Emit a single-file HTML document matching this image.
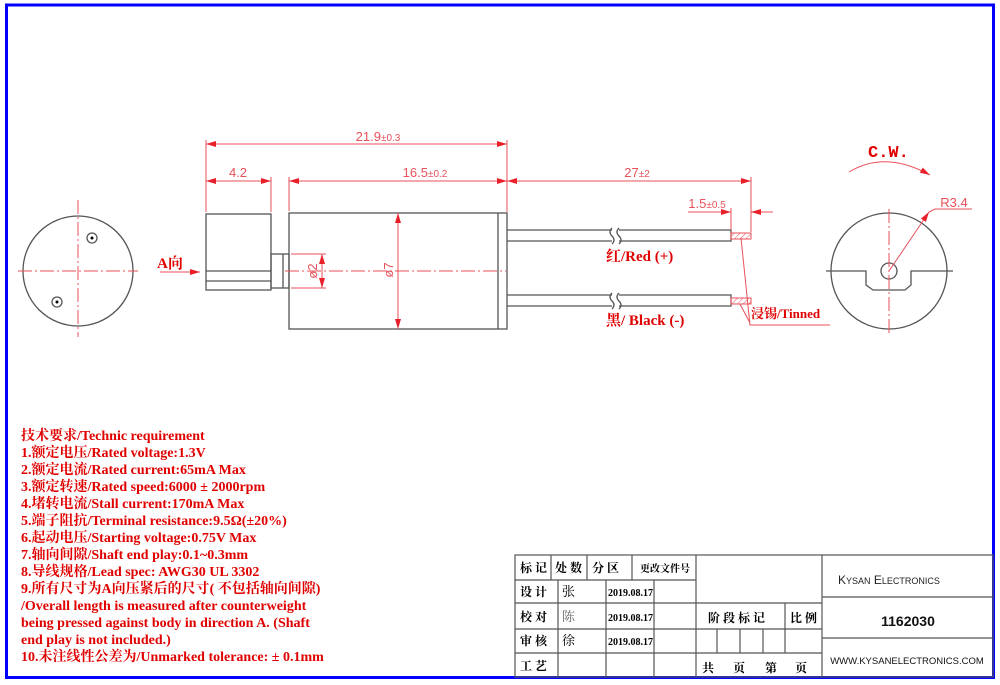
<!DOCTYPE html>
<html><head><meta charset="utf-8"><style>
html,body{margin:0;padding:0;background:#fff;width:1000px;height:685px;overflow:hidden}
svg{display:block}
.d{stroke:#e8505a;stroke-width:1;fill:none}
.k{stroke:#555;stroke-width:1.3;fill:none}
.c{stroke:#e8505a;stroke-width:1;fill:none;stroke-dasharray:14 3 2 3}
.dt{font-family:"Liberation Sans",sans-serif;font-size:13px;fill:#e8505a}
.rt{font-family:"Liberation Serif","Noto Serif CJK SC",serif;font-weight:bold;fill:#e00000}
.tb{font-family:"Liberation Serif","Noto Serif CJK SC",serif;font-weight:bold;font-size:12px;fill:#000}
</style></head><body>
<svg width="1000" height="685" viewBox="0 0 1000 685" xmlns="http://www.w3.org/2000/svg">
<defs>
<marker id="a" viewBox="0 0 10 6" refX="10" refY="3" markerWidth="10" markerHeight="6" orient="auto-start-reverse" markerUnits="userSpaceOnUse"><path d="M0,0L10,3L0,6z" fill="#e8202a"/></marker>
<pattern id="h" width="4" height="4" patternUnits="userSpaceOnUse" patternTransform="rotate(45)"><line x1="0" y1="0" x2="0" y2="4" stroke="#e8505a" stroke-width="1"/></pattern>
</defs>
<!-- border -->
<rect x="6.5" y="5" width="987" height="672.5" fill="none" stroke="#0000ff" stroke-width="3"/>

<!-- left end view -->
<circle cx="78" cy="271" r="55" class="k"/>
<line x1="18" y1="271" x2="138" y2="271" class="c"/>
<line x1="78" y1="200" x2="78" y2="337" class="c"/>
<circle cx="92" cy="238" r="5" class="k"/><circle cx="92" cy="238" r="1.5" fill="#000"/>
<circle cx="57" cy="302" r="5" class="k"/><circle cx="57" cy="302" r="1.5" fill="#000"/>
<text x="157" y="268" class="rt" font-size="15">A向</text>
<line x1="160" y1="272" x2="200" y2="272" class="d" marker-end="url(#a)"/>

<!-- counterweight -->
<rect x="206" y="214" width="65" height="76" class="k"/>
<line x1="206" y1="271" x2="271" y2="271" class="k"/>
<line x1="206" y1="281" x2="271" y2="281" class="k"/>
<rect x="271" y="254" width="18" height="34" class="k"/>
<line x1="283" y1="254" x2="283" y2="288" class="k"/>
<!-- body -->
<rect x="289" y="213" width="218" height="116" class="k"/>
<line x1="498" y1="213" x2="498" y2="329" class="k"/>
<line x1="285" y1="271" x2="506" y2="271" class="c"/>
<!-- wires -->
<path d="M507,230H612M619,230H731V241H619M612,241H507" class="k"/>
<path d="M612,228q-4,4 0,8q4,4 0,8M619,228q-4,4 0,8q4,4 0,8" class="k" stroke-width="0.8"/>
<path d="M507,295H612M619,295H731V306H619M612,306H507" class="k"/>
<path d="M612,293q-4,4 0,8q4,4 0,8M619,293q-4,4 0,8q4,4 0,8" class="k" stroke-width="0.8"/>
<rect x="731" y="233" width="20" height="6" fill="url(#h)" stroke="#e8505a" stroke-width="1"/>
<rect x="731" y="298" width="20" height="6" fill="url(#h)" stroke="#e8505a" stroke-width="1"/>
<text x="606" y="261" class="rt" font-size="15">红/Red (+)</text>
<text x="606" y="325" class="rt" font-size="15">黑/ Black (-)</text>
<text x="751" y="318" class="rt" font-size="13">浸锡/Tinned</text>
<path d="M741,238L750,325H830M740,304L750,323" class="d"/>

<!-- dimensions -->
<line x1="206" y1="140" x2="206" y2="212" class="d"/>
<line x1="507" y1="140" x2="507" y2="212" class="d"/>
<line x1="206" y1="144" x2="507" y2="144" class="d" marker-start="url(#a)" marker-end="url(#a)"/>
<text x="378" y="141" class="dt" text-anchor="middle">21.9<tspan font-size="10">±0.3</tspan></text>
<line x1="271" y1="177" x2="271" y2="212" class="d"/>
<line x1="289" y1="177" x2="289" y2="211" class="d"/>
<line x1="206" y1="181" x2="271" y2="181" class="d" marker-start="url(#a)" marker-end="url(#a)"/>
<text x="238" y="177" class="dt" text-anchor="middle">4.2</text>
<line x1="289" y1="181" x2="507" y2="181" class="d" marker-start="url(#a)" marker-end="url(#a)"/>
<text x="425" y="177" class="dt" text-anchor="middle">16.5<tspan font-size="10">±0.2</tspan></text>
<line x1="751" y1="177" x2="751" y2="232" class="d"/>
<line x1="507" y1="181" x2="751" y2="181" class="d" marker-start="url(#a)" marker-end="url(#a)"/>
<text x="637" y="177" class="dt" text-anchor="middle">27<tspan font-size="10">±2</tspan></text>
<line x1="731" y1="208" x2="731" y2="230" class="d"/>
<line x1="688" y1="212" x2="731" y2="212" class="d" marker-end="url(#a)"/>
<line x1="773" y1="212" x2="751" y2="212" class="d" marker-end="url(#a)"/>
<text x="707" y="208" class="dt" text-anchor="middle">1.5<tspan font-size="10">±0.5</tspan></text>
<line x1="322" y1="254" x2="322" y2="288" class="d" marker-start="url(#a)" marker-end="url(#a)"/>
<line x1="291" y1="254" x2="326" y2="254" class="d"/>
<line x1="291" y1="288" x2="326" y2="288" class="d"/>
<text transform="translate(317,271) rotate(-90)" class="dt" text-anchor="middle">ø2</text>
<line x1="398" y1="213" x2="398" y2="329" class="d" marker-start="url(#a)" marker-end="url(#a)"/>
<text transform="translate(393,270) rotate(-90)" class="dt" text-anchor="middle">ø7</text>

<!-- right end view -->
<text x="868" y="157" class="rt" font-size="17" style="font-family:'Liberation Mono',monospace">C.W.</text>
<path d="M849,172Q885,150 930,175" class="d" marker-end="url(#a)"/>
<circle cx="889" cy="271" r="58" class="k"/>
<path d="M826,271H866V285L873,290H905L911,285V271H953" class="k"/>
<circle cx="889" cy="271" r="8" class="k"/>
<line x1="889" y1="209" x2="889" y2="335" class="c"/>
<line x1="889" y1="271" x2="929" y2="212" class="d" marker-end="url(#a)"/>
<path d="M929,212L935,209H972" class="d"/>
<text x="954" y="207" class="dt" text-anchor="middle">R3.4</text>

<!-- technic text -->
<g class="rt" font-size="14">
<text x="21" y="440">技术要求/Technic requirement</text>
<text x="21" y="457">1.额定电压/Rated voltage:1.3V</text>
<text x="21" y="474">2.额定电流/Rated current:65mA Max</text>
<text x="21" y="491">3.额定转速/Rated speed:6000 ± 2000rpm</text>
<text x="21" y="508">4.堵转电流/Stall current:170mA Max</text>
<text x="21" y="525">5.端子阻抗/Terminal resistance:9.5Ω(±20%)</text>
<text x="21" y="542">6.起动电压/Starting voltage:0.75V  Max</text>
<text x="21" y="559">7.轴向间隙/Shaft end play:0.1~0.3mm</text>
<text x="21" y="576">8.导线规格/Lead spec:  AWG30 UL 3302</text>
<text x="21" y="593">9.所有尺寸为A向压紧后的尺寸( 不包括轴向间隙)</text>
<text x="21" y="610">/Overall length is measured after counterweight</text>
<text x="21" y="627">being pressed against body in direction A. (Shaft</text>
<text x="21" y="644">end play is not included.)</text>
<text x="21" y="661">10.未注线性公差为/Unmarked tolerance: ± 0.1mm</text>
</g>

<!-- title block -->
<g stroke="#555" stroke-width="1.2" fill="none">
<rect x="515" y="555" width="478" height="122"/>
<line x1="515" y1="580" x2="696" y2="580"/>
<line x1="515" y1="603" x2="822" y2="603"/>
<line x1="515" y1="629" x2="822" y2="629"/>
<line x1="515" y1="653" x2="822" y2="653"/>
<line x1="551" y1="555" x2="551" y2="580"/>
<line x1="587" y1="555" x2="587" y2="580"/>
<line x1="632" y1="555" x2="632" y2="580"/>
<line x1="558" y1="580" x2="558" y2="677"/>
<line x1="606" y1="580" x2="606" y2="677"/>
<line x1="654" y1="580" x2="654" y2="677"/>
<line x1="696" y1="555" x2="696" y2="677"/>
<line x1="822" y1="555" x2="822" y2="677"/>
<line x1="785" y1="603" x2="785" y2="653"/>
<line x1="717" y1="629" x2="717" y2="653"/>
<line x1="740" y1="629" x2="740" y2="653"/>
<line x1="763" y1="629" x2="763" y2="653"/>
<line x1="822" y1="597" x2="993" y2="597"/>
<line x1="822" y1="638" x2="993" y2="638"/>
</g>
<g class="tb">
<text x="520" y="572">标 记</text><text x="555" y="572">处 数</text><text x="592" y="572">分  区</text>
<text x="640" y="572" font-size="10">更改文件号</text>
<text x="520" y="596">设 计</text><text x="520" y="621">校 对</text><text x="520" y="645">审 核</text><text x="520" y="670">工 艺</text>
<text x="562" y="596" font-weight="normal" font-size="13">张</text>
<text x="562" y="621" font-weight="normal" font-size="13" fill="#666">陈</text>
<text x="562" y="645" font-weight="normal" font-size="13">徐</text>
<text x="608" y="596" font-size="10">2019.08.17</text>
<text x="608" y="621" font-size="10">2019.08.17</text>
<text x="608" y="645" font-size="10">2019.08.17</text>
<text x="708" y="622">阶 段 标 记</text><text x="790" y="622">比 例</text>
<text x="702" y="672">共</text><text x="733" y="672">页</text><text x="765" y="672">第</text><text x="795" y="672">页</text>
</g>
<text x="838" y="584" font-family="Liberation Sans,sans-serif" font-size="12" fill="#222">K<tspan font-size="9">YSAN</tspan> E<tspan font-size="9">LECTRONICS</tspan></text>
<text x="908" y="626" text-anchor="middle" font-family="Liberation Sans,sans-serif" font-weight="bold" font-size="14" fill="#111">1162030</text>
<text x="907" y="664" text-anchor="middle" font-family="Liberation Sans,sans-serif" font-size="9.5" fill="#111">WWW.KYSANELECTRONICS.COM</text>
</svg>
</body></html>
